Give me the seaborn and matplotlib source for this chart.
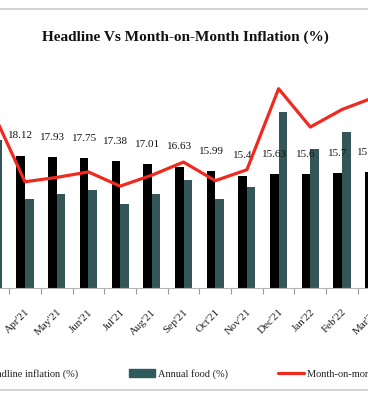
import numpy as np
import pandas as pd
import seaborn as sns
import matplotlib as mpl
mpl.use("Agg")
import matplotlib.pyplot as plt
from matplotlib.patches import Patch
from matplotlib.lines import Line2D

months = ["Mar'21", "Apr'21", "May'21", "Jun'21", "Jul'21", "Aug'21", "Sep'21",
          "Oct'21", "Nov'21", "Dec'21", "Jan'22", "Feb'22", "Mar'22"]
headline = [18.17, 18.12, 17.93, 17.75, 17.38, 17.01, 16.63, 15.99, 15.40, 15.63, 15.60, 15.70, 15.92]
headline_lbl = ["18.17", "18.12", "17.93", "17.75", "17.38", "17.01", "16.63", "15.99",
                "15.4", "15.63", "15.6", "15.7", "15.92"]
annual_food = [20.3, 12.2, 12.9, 13.4, 11.5, 12.9, 14.75, 12.2, 13.8, 24.15, 19.1, 21.4, 20.5]
mom = [1.60, 0.97, 1.01, 1.06, 0.93, 1.03, 1.15, 0.98, 1.08, 1.82, 1.47, 1.63, 1.74]

black = "#000000"
teal = "#2f5b5e"
red = "#f02a1e"

sns.set_style("white")
plt.rcParams['font.family'] = ['Liberation Serif', 'DejaVu Serif']

df = pd.DataFrame({
    "month": months * 2,
    "value": headline + annual_food,
    "series": ["Headline inflation (%)"] * len(months) + ["Annual food (%)"] * len(months),
})

fig = plt.figure(figsize=(3.68, 4.0), dpi=100)
# the chart is a crop of a wider one, so the axes run past both edges
ax = fig.add_axes([-0.0613, 0.28, 1.1199, 0.5475])
sns.barplot(data=df, x="month", y="value", hue="series", order=months,
            palette=[black, teal], width=0.54, linewidth=0, legend=False, ax=ax)

for i, (v, t) in enumerate(zip(headline, headline_lbl)):
    ax.annotate(t, (i - 0.135, v), xytext=(0, 11), textcoords="offset points",
                ha="center", va="bottom", fontsize=8, color="#111111",
                annotation_clip=False)

ax2 = ax.twinx()
sns.lineplot(x=np.arange(len(months)), y=mom, ax=ax2, color=red, lw=2.3)
ax2.set_ylim(0, 2)

ax.set_ylim(0, 30)
ax.set_xlabel("")
ax.set_ylabel("")
ax.set_yticks([])
ax2.set_yticks([])
ax2.set_ylabel("")
for a in (ax, ax2):
    for s in ("left", "right", "top"):
        a.spines[s].set_visible(False)
ax.spines["bottom"].set_color("#b5b5b5")
ax2.spines["bottom"].set_visible(False)

ax.set_xticks(np.arange(len(months)))
ax.set_xticklabels(months, rotation=45, ha="right", rotation_mode="anchor",
                   fontsize=8, color="#222222")
ax.tick_params(axis="x", which="major", length=0, pad=14)
ax.set_xticks(np.arange(len(months) - 1) + 0.5, minor=True)
ax.tick_params(axis="x", which="minor", length=4, color="#9a9a9a", width=0.8,
               direction="out", bottom=True)
# ticks expand the view, so set the window last
ax.set_xlim(-0.5, 12.5)

fig.text(0.503, 0.9075, "Headline Vs Month-on-Month Inflation (%)", ha="center",
         va="center", fontsize=11, fontweight="bold", color="#111111")

handles = [Patch(color=black), Patch(color=teal), Line2D([], [], color=red, lw=2.3)]
labels = ["Headline inflation (%)", "Annual food (%)", "Month-on-month inflation (%)"]
fig.legend(handles, labels, loc="center left", bbox_to_anchor=(-0.133, 0.065), ncol=3,
           frameon=False, fontsize=7.5, handlelength=2.5, handleheight=0.77,
           handletextpad=0.3, columnspacing=4.8, borderpad=0, labelcolor="#222222")

fig.add_artist(Line2D([0, 1], [0.9775, 0.9775], color="#cccccc", lw=1.2, transform=fig.transFigure))
fig.add_artist(Line2D([0, 1], [0.025, 0.025], color="#cccccc", lw=1.2, transform=fig.transFigure))

fig.savefig("out.png", dpi=100)
